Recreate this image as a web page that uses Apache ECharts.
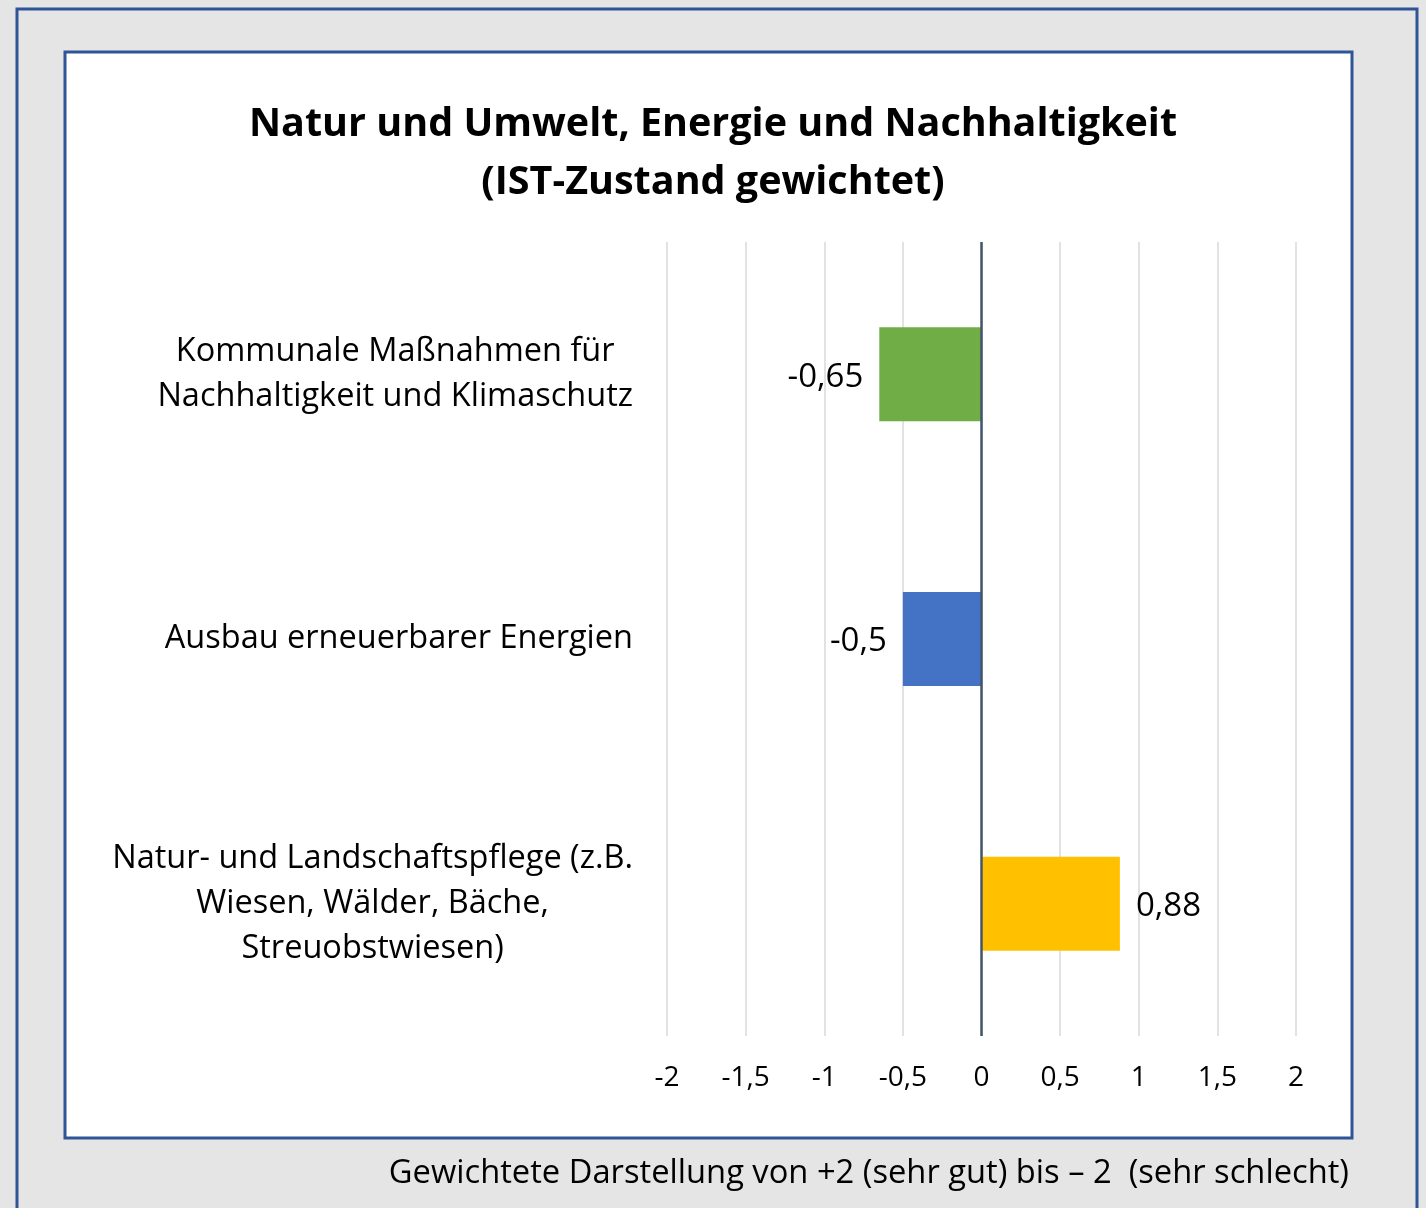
<!DOCTYPE html>
<html>
<head>
<meta charset="utf-8">
<script src="https://cdn.jsdelivr.net/npm/echarts@6/dist/echarts.min.js"></script>
<style>
html,body{margin:0;padding:0;background:#e5e5e5;}
#chart{width:1426px;height:1208px;}
</style>
</head>
<body>
<div id="chart"></div>
<script>
// Data
const categories = [
  'Kommunale Maßnahmen für\nNachhaltigkeit und Klimaschutz',
  'Ausbau erneuerbarer Energien',
  'Natur- und Landschaftspflege (z.B.\nWiesen, Wälder, Bäche,\nStreuobstwiesen)'
];
const values = [-0.65, -0.5, 0.88];
const barColors = ['#70AD47', '#4472C4', '#FFC000'];
const axisMin = -2, axisMax = 2, axisStep = 0.5;
const titleText = 'Natur und Umwelt, Energie und Nachhaltigkeit\n(IST-Zustand gewichtet)';
const footerText = 'Gewichtete Darstellung von +2 (sehr gut) bis – 2  (sehr schlecht)';

const FONT = '"Open Sans", "Noto Sans", sans-serif';
const fmt = v => String(v).replace('.', ',');

const chart = echarts.init(document.getElementById('chart'), null, {renderer: 'canvas'});
chart.setOption({
  backgroundColor: '#e5e5e5',
  animation: false,
  graphic: [
    {type: 'rect', z: -10, shape: {x: 17, y: 9, width: 1400, height: 1260},
     style: {fill: '#e5e5e5', stroke: '#2F5597', lineWidth: 3}},
    {type: 'rect', z: -9, shape: {x: 65, y: 52, width: 1287, height: 1086},
     style: {fill: '#ffffff', stroke: '#2F5597', lineWidth: 3}}
  ],
  title: [
    {text: titleText, left: 'center', top: 91,
     textStyle: {fontFamily: FONT, fontWeight: 'bold', fontSize: 39.5, lineHeight: 58, color: '#000'}},
    {text: footerText, right: 72, top: 1152,
     textStyle: {fontFamily: FONT, fontWeight: 'normal', fontSize: 32.7, color: '#000'}}
  ],
  grid: {left: 667, right: 130, top: 242, bottom: 172, containLabel: false},
  xAxis: {
    type: 'value', min: axisMin, max: axisMax, interval: axisStep,
    axisLine: {show: false}, axisTick: {show: false},
    splitLine: {show: true, lineStyle: {color: '#d9d9d9', width: 1.5}},
    axisLabel: {formatter: v => fmt(v), fontFamily: FONT, fontSize: 28, color: '#000', margin: 28}
  },
  yAxis: {
    type: 'category', data: categories, inverse: true,
    axisLine: {show: false}, axisTick: {show: false},
    axisLabel: {
      margin: 34, align: 'right',
      formatter: v => v.split('\n').map(s => '{c|' + s + '}').join('\n'),
      rich: {c: {align: 'center', fontFamily: FONT, fontSize: 32.5, lineHeight: 45, color: '#000'}}
    }
  },
  series: [{
    type: 'bar',
    barWidth: '35.5%',
    data: values.map((v, i) => ({
      value: v,
      itemStyle: {color: barColors[i]},
      label: {position: v < 0 ? 'left' : 'right'}
    })),
    label: {show: true, distance: 16, offset: [0, 3], formatter: p => fmt(p.value),
            fontFamily: FONT, fontSize: 33, color: '#000'},
    markLine: {
      silent: true, symbol: 'none', label: {show: false},
      lineStyle: {color: '#44546A', width: 2.5, type: 'solid'},
      data: [{xAxis: 0}]
    }
  }]
});
</script>
</body>
</html>
